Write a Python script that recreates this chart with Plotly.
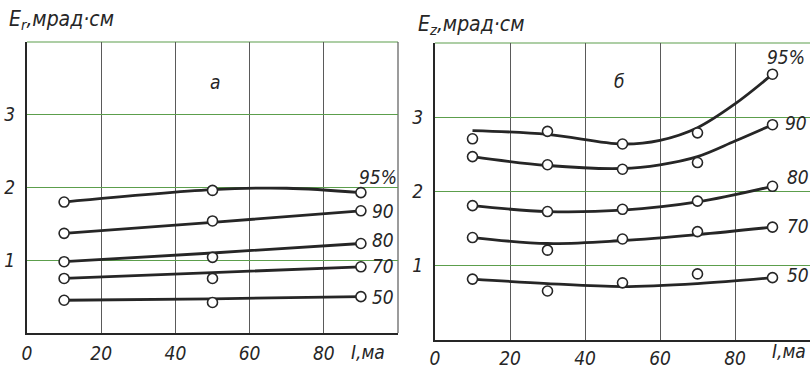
import plotly.graph_objects as go

# ---------------- data ----------------
# panel а (E_r)
a_x_pts = [10, 50, 90]
a_pts = {
    "95%": [1.80, 1.96, 1.93],
    "90": [1.37, 1.54, 1.68],
    "80": [0.98, 1.04, 1.23],
    "70": [0.75, 0.75, 0.91],
    "50": [0.45, 0.42, 0.50],
}
a_curve_x = {
    "95%": [10, 50, 70, 90],
    "90": [10, 50, 90],
    "80": [10, 50, 90],
    "70": [10, 50, 90],
    "50": [10, 50, 90],
}
a_curve_y = {
    "95%": [1.80, 1.97, 1.99, 1.93],
    "90": [1.37, 1.52, 1.68],
    "80": [0.98, 1.10, 1.23],
    "70": [0.75, 0.83, 0.91],
    "50": [0.45, 0.47, 0.50],
}
a_label_xy = {
    "95%": (89.0, 2.14),
    "90": (92.4, 1.68),
    "80": (92.4, 1.28),
    "70": (92.4, 0.92),
    "50": (92.4, 0.49),
}

# panel б (E_z)
b_x_pts = [10, 30, 50, 70, 90]
b_pts = {
    "95%": [2.71, 2.81, 2.64, 2.79, 3.58],
    "90": [2.47, 2.36, 2.30, 2.39, 2.90],
    "80": [1.81, 1.73, 1.76, 1.87, 2.07],
    "70": [1.38, 1.21, 1.36, 1.46, 1.52],
    "50": [0.82, 0.66, 0.77, 0.89, 0.84],
}
b_curve_x = {
    "95%": [10, 30, 50, 60, 70, 80, 90],
    "90": [10, 30, 50, 60, 70, 80, 90],
    "80": [10, 30, 50, 70, 90],
    "70": [10, 30, 50, 70, 90],
    "50": [10, 30, 50, 70, 90],
}
b_curve_y = {
    "95%": [2.82, 2.77, 2.64, 2.69, 2.86, 3.18, 3.58],
    "90": [2.47, 2.35, 2.31, 2.36, 2.47, 2.68, 2.90],
    "80": [1.81, 1.73, 1.75, 1.86, 2.07],
    "70": [1.38, 1.30, 1.34, 1.42, 1.52],
    "50": [0.82, 0.76, 0.72, 0.76, 0.84],
}
b_label_xy = {
    "95%": (88.0, 3.81),
    "90": (92.8, 2.92),
    "80": (93.3, 2.19),
    "70": (93.3, 1.53),
    "50": (93.3, 0.88),
}

x_tickvals = [0, 20, 40, 60, 80]
x_ticktext = ["0", "20", "40", "60", "80"]
y_tickvals = [1, 2, 3]
y_ticktext = ["1", "2", "3"]

# ---------------- style ----------------
FONT = "Liberation Sans Narrow, DejaVu Sans Condensed, Arial Narrow, DejaVu Sans, sans-serif"
INK = "#262626"
GREEN = "#5c9e4c"
GRAY = "#5a5a5a"

W, H = 810, 368

def px(x):
    return x / W

def py(y):
    return 1 - y / H

fig = go.Figure()

def add_panel(xref, yref, xp, pts, cx, cy):
    for k in pts:
        fig.add_trace(go.Scatter(x=cx[k], y=cy[k], mode="lines",
                                 line=dict(color=INK, width=2.8, shape="spline"),
                                 xaxis=xref, yaxis=yref, showlegend=False,
                                 hoverinfo="skip", cliponaxis=False))
    for k in pts:
        fig.add_trace(go.Scatter(x=xp, y=pts[k], mode="markers",
                                 marker=dict(symbol="circle", size=10, color="white",
                                             line=dict(color=INK, width=1.6)),
                                 xaxis=xref, yaxis=yref, showlegend=False,
                                 cliponaxis=False))

add_panel("x", "y", a_x_pts, a_pts, a_curve_x, a_curve_y)
add_panel("x2", "y2", b_x_pts, b_pts, b_curve_x, b_curve_y)

tickfont = dict(family=FONT, size=19, color=INK, style="italic")

common_x = dict(range=[0, 100], tickvals=x_tickvals, ticktext=x_ticktext,
                showgrid=True, gridcolor=GRAY, gridwidth=1,
                showline=True, linecolor=INK, linewidth=2, zeroline=False,
                ticks="", tickfont=tickfont, automargin=False, fixedrange=True)
common_y = dict(range=[0, 4], tickvals=y_tickvals, ticktext=y_ticktext,
                showgrid=True, gridcolor=GREEN, gridwidth=1,
                showline=True, linecolor=INK, linewidth=2, zeroline=False,
                ticks="", tickfont=tickfont, automargin=False, fixedrange=True,
                ticklabelstandoff=6)

fig.update_layout(
    width=W, height=H,
    margin=dict(l=0, r=0, t=0, b=0),
    paper_bgcolor="white", plot_bgcolor="white",
    showlegend=False,
    xaxis=dict(domain=[px(27), px(398)], anchor="y", ticklabelstandoff=2, **common_x),
    yaxis=dict(domain=[py(333), py(42)], anchor="x", **common_y),
    xaxis2=dict(domain=[px(435), 1.0], anchor="y2", ticklabelstandoff=0, **common_x),
    yaxis2=dict(domain=[py(340), py(43)], anchor="x2", **common_y),
)

# panel frame: thin top borders and the right border of panel а
fig.add_shape(type="line", xref="x domain", yref="y domain", x0=0, x1=1, y0=1, y1=1,
              line=dict(color=GREEN, width=1.2), layer="below")
fig.add_shape(type="line", xref="x domain", yref="y domain", x0=1, x1=1, y0=0, y1=1,
              line=dict(color=GRAY, width=1.2), layer="below")
fig.add_shape(type="line", xref="x2 domain", yref="y2 domain", x0=0, x1=1, y0=1, y1=1,
              line=dict(color=GREEN, width=1.2), layer="below")

ann_font = dict(family=FONT, size=19, color=INK, style="italic")
title_font = dict(family=FONT, size=21, color=INK, style="italic")
for k, (lx, ly) in a_label_xy.items():
    fig.add_annotation(x=lx, y=ly, xref="x", yref="y", text=k, showarrow=False,
                       xanchor="left", yanchor="middle", font=ann_font)
for k, (lx, ly) in b_label_xy.items():
    fig.add_annotation(x=lx, y=ly, xref="x2", yref="y2", text=k, showarrow=False,
                       xanchor="left", yanchor="middle", font=ann_font)

# axis titles (paper coordinates, outside the plotting ranges)
fig.add_annotation(x=px(7), y=py(20), xref="paper", yref="paper",
                   text="E<sub>r</sub>,мрад·см",
                   showarrow=False, xanchor="left", yanchor="middle", font=title_font)
fig.add_annotation(x=px(416), y=py(25), xref="paper", yref="paper",
                   text="E<sub>z</sub>,мрад·см",
                   showarrow=False, xanchor="left", yanchor="middle", font=title_font)
fig.add_annotation(x=px(368), y=py(352), xref="paper", yref="paper", text="I,ма",
                   showarrow=False, xanchor="center", yanchor="middle", font=ann_font)
fig.add_annotation(x=px(789), y=py(351), xref="paper", yref="paper", text="I,ма",
                   showarrow=False, xanchor="center", yanchor="middle", font=ann_font)
# panel letters
fig.add_annotation(x=50.7, y=3.45, xref="x", yref="y", text="а",
                   showarrow=False, xanchor="center", yanchor="middle", font=ann_font)
fig.add_annotation(x=49.3, y=3.49, xref="x2", yref="y2", text="б",
                   showarrow=False, xanchor="center", yanchor="middle", font=ann_font)

fig.write_html("out.html",
               config={"displayModeBar": False},
               post_script="document.body.style.margin='0';"
                           "document.body.style.overflow='hidden';")
